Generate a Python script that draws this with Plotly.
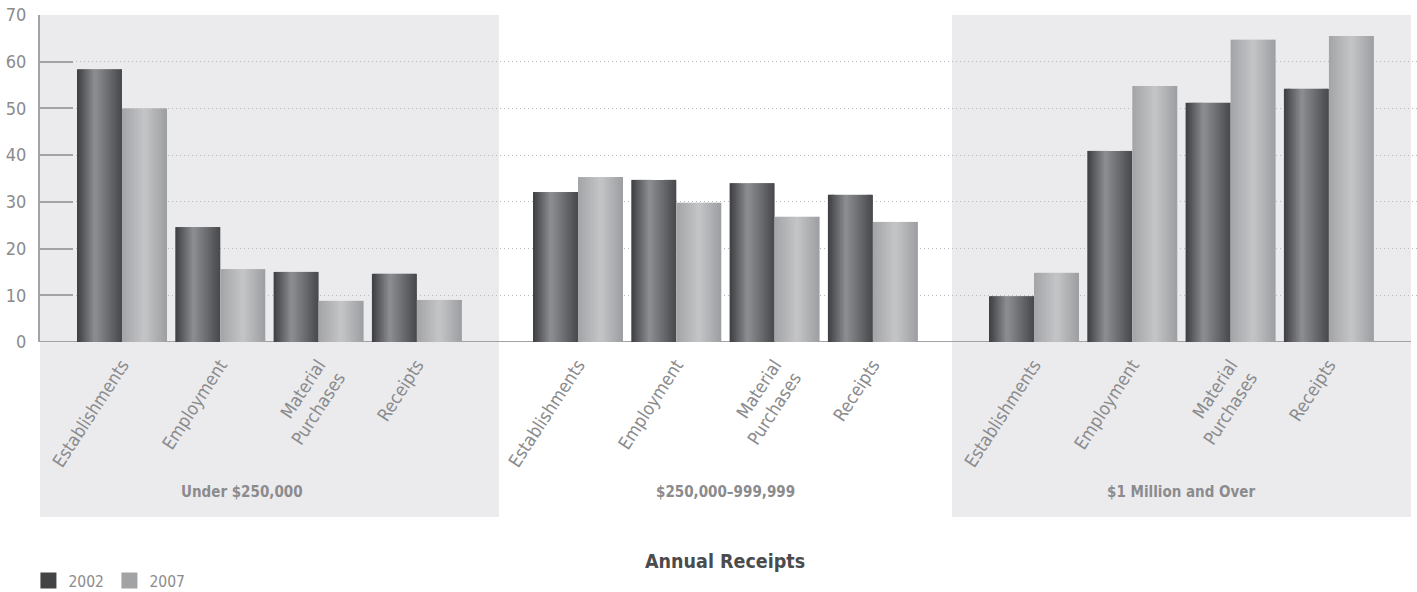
import plotly.graph_objects as go

# ---- data -----------------------------------------------------------------
receipt_classes = ["Under $250,000", "$250,000–999,999", "$1 Million and Over"]
measures = ["Establishments", "Employment", "Material<br>Purchases", "Receipts"]

# percent shares, one list per year, ordered class by class, measure by measure
share_2002 = [58.4, 24.6, 15.0, 14.6,
              32.1, 34.7, 34.0, 31.5,
              9.8, 40.9, 51.2, 54.2]
share_2007 = [50.0, 15.6, 8.8, 9.0,
              35.3, 29.8, 26.8, 25.7,
              14.8, 54.8, 64.7, 65.5]
years = ["2002", "2007"]

y_ticks = [0, 10, 20, 30, 40, 50, 60, 70]

# ---- layout constants ------------------------------------------------------
W, H = 1417, 592
M_L, M_R, M_T, M_B = 40, 0, 15, 250
PLOT_W = W - M_L - M_R
PLOT_H = H - M_T - M_B

PX_PER_UNIT = 98.3          # one measure slot on the x axis
PANEL_STEP = 456 / PX_PER_UNIT
X0 = -82 / PX_PER_UNIT
X1 = X0 + PLOT_W / PX_PER_UNIT
BAR_W = 45 / PX_PER_UNIT

FONT = "Liberation Sans Narrow, DejaVu Sans Condensed, Arial Narrow, sans-serif"
GREY_TXT = "#8b8b8d"

# metallic gradients (position, rgb) across each bar
GRAD = {
    "2002": [(0.0, (60, 61, 64)), (0.4, (142, 143, 147)), (1.0, (71, 72, 75))],
    "2007": [(0.0, (163, 164, 167)), (0.5, (196, 197, 199)), (1.0, (157, 158, 161))],
}
LEGEND_COL = {"2002": "#434446", "2007": "#a2a3a5"}


def grad_color(stops, t):
    for (t0, c0), (t1, c1) in zip(stops, stops[1:]):
        if t0 <= t <= t1:
            f = (t - t0) / (t1 - t0) if t1 > t0 else 0
            c = [round(a + (b - a) * f) for a, b in zip(c0, c1)]
            return "rgb({},{},{})".format(*c)
    c = stops[-1][1]
    return "rgb({},{},{})".format(*c)


x_pos = [p * PANEL_STEP + g for p in range(len(receipt_classes)) for g in range(len(measures))]
tick_text = measures * len(receipt_classes)

fig = go.Figure()

N_SLICE = 22
slice_w = BAR_W / N_SLICE
for yi, (year, vals) in enumerate(zip(years, [share_2002, share_2007])):
    start = -BAR_W if yi == 0 else 0.0
    for k in range(N_SLICE):
        t = (k + 0.5) / N_SLICE
        w = slice_w * (1.6 if k < N_SLICE - 1 else 1.0)
        fig.add_trace(go.Bar(
            x=x_pos, y=vals,
            offset=start + k * slice_w, width=w,
            marker=dict(color=grad_color(GRAD[year], t), line=dict(width=0)),
            showlegend=False, hoverinfo="skip",
        ))

for year in years:
    fig.add_trace(go.Scatter(
        x=[None], y=[None], mode="markers", name=year,
        marker=dict(symbol="square", size=17, color=LEGEND_COL[year]),
    ))

# shaded panels behind the first and last receipt classes
def to_paper_x(u):
    return (u - X0) / (X1 - X0)

panel_bottom = (M_T + PLOT_H - 517) / PLOT_H
shapes = []
for p in (0, 2):
    u0 = p * PANEL_STEP + X0
    u1 = u0 + 459 / PX_PER_UNIT
    shapes.append(dict(type="rect", xref="paper", yref="paper",
                       x0=to_paper_x(u0), x1=to_paper_x(u1), y0=panel_bottom, y1=1,
                       fillcolor="#ebebed", line=dict(width=0), layer="below"))

# baseline, ending at the right edge of the last panel
shapes.append(dict(type="line", xref="paper", yref="y",
                   x0=0, x1=to_paper_x(2 * PANEL_STEP + X0 + 459 / PX_PER_UNIT),
                   y0=0, y1=0, line=dict(color="#a3a3a5", width=2), layer="below"))

annotations = []
label_offsets = [-0.28, 0.0, 0.0]
for p, (name, off) in enumerate(zip(receipt_classes, label_offsets)):
    annotations.append(dict(
        x=p * PANEL_STEP + 1.5 + off, xref="x",
        y=(M_T + PLOT_H - 492) / PLOT_H, yref="paper",
        text="<b>" + name + "</b>", showarrow=False,
        font=dict(family=FONT, size=15, color=GREY_TXT),
        xanchor="center", yanchor="middle",
    ))
annotations.append(dict(
    x=0.4978, xref="paper", y=(M_T + PLOT_H - 561) / PLOT_H, yref="paper",
    text="<b>Annual Receipts</b>", showarrow=False,
    font=dict(family=FONT, size=19.5, color="#4b4b4d"),
    xanchor="center", yanchor="middle",
))

fig.update_layout(
    width=W, height=H,
    margin=dict(l=M_L, r=M_R, t=M_T, b=M_B, autoexpand=False),
    paper_bgcolor="white", plot_bgcolor="rgba(0,0,0,0)",
    barmode="overlay",
    shapes=shapes, annotations=annotations,
    font=dict(family=FONT, color=GREY_TXT),
    legend=dict(orientation="h", x=-0.0084, xanchor="left",
                y=(M_T + PLOT_H - 581) / PLOT_H, yanchor="middle",
                font=dict(family=FONT, size=15.5, color=GREY_TXT),
                itemsizing="trace", bgcolor="rgba(0,0,0,0)",
                entrywidth=36, entrywidthmode="pixels"),
    xaxis=dict(range=[X0, X1], tickmode="array", tickvals=x_pos, ticktext=tick_text,
               tickangle=-57, showgrid=False, zeroline=False,
               showline=False, ticks="", ticklabelstandoff=8,
               tickfont=dict(family=FONT, size=18, color=GREY_TXT)),
    yaxis=dict(range=[0, 70], tickmode="array", tickvals=y_ticks,
               showgrid=True, gridcolor="#b9b9bb", gridwidth=1, griddash="1px,3px",
               zeroline=False, showline=True, linecolor="#a3a3a5", linewidth=2,
               ticks="inside", ticklen=33, tickwidth=2, tickcolor="#a3a3a5",
               ticklabelstandoff=8,
               tickfont=dict(family=FONT, size=18, color=GREY_TXT)),
)

fig.write_html("out.html")
